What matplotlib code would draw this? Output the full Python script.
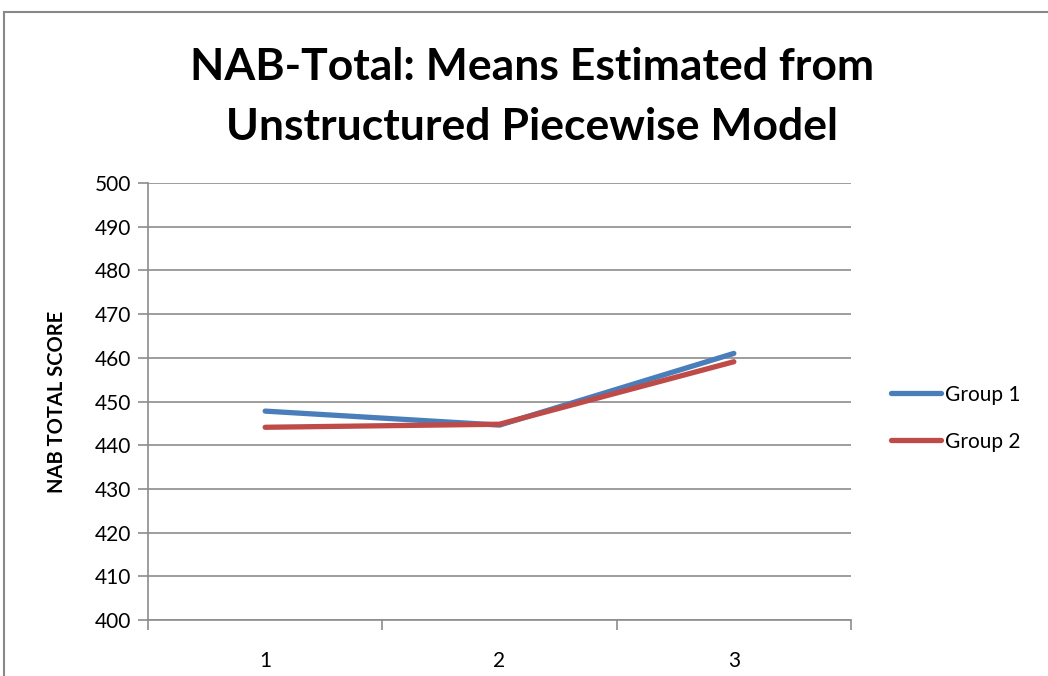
import matplotlib
matplotlib.use("Agg")
import matplotlib.pyplot as plt
from matplotlib.lines import Line2D

# data
occasions = [1, 2, 3]
group1 = [447.8, 444.6, 461.0]
group2 = [444.1, 444.8, 459.1]
y_ticks = list(range(400, 501, 10))

plt.rcParams["font.family"] = ["Lato", "DejaVu Sans"]

fig = plt.figure(figsize=(10.48, 6.76), dpi=100)
ax = fig.add_axes([148 / 1048, 1 - 620 / 676, (851 - 148) / 1048, (620 - 183) / 676])

# outer frame (cut off on right/bottom like the reference)
fig.add_artist(Line2D([4 / 1048, 4 / 1048], [0, 1 - 12 / 676], color="#888888", lw=1.5,
                      transform=fig.transFigure))
fig.add_artist(Line2D([4 / 1048, 1], [1 - 12 / 676, 1 - 12 / 676], color="#888888", lw=1.5,
                      transform=fig.transFigure))

ax.plot(occasions, group1, color="#4A7EBB", lw=3.8, solid_capstyle="round",
        solid_joinstyle="round", label="Group 1")
ax.plot(occasions, group2, color="#BE4B48", lw=3.8, solid_capstyle="round",
        solid_joinstyle="round", label="Group 2")

ax.set_xlim(0.5, 3.5)
ax.set_ylim(400, 500)
ax.set_yticks(y_ticks)
ax.yaxis.grid(True, color="#8c8c8c", lw=1.2)
ax.set_axisbelow(True)

ax.set_xticks([0.5, 1.5, 2.5, 3.5])
ax.set_xticklabels([])
ax.set_xticks(occasions, minor=True)
ax.set_xticklabels([str(o) for o in occasions], minor=True)
ax.tick_params(axis="x", which="minor", length=0, pad=22, labelsize=15)
ax.tick_params(axis="x", which="major", length=7, width=1.2, color="#8c8c8c")
ax.tick_params(axis="y", length=7, width=1.2, color="#8c8c8c", labelsize=15, pad=5)

for s in ["top", "right"]:
    ax.spines[s].set_visible(False)
for s in ["left", "bottom"]:
    ax.spines[s].set_color("#8c8c8c")
    ax.spines[s].set_linewidth(1.2)

ax.set_ylabel("NAB TOTAL SCORE", fontsize=14.5, fontweight="bold", labelpad=20)

fig.text(0.508, 1 - 97 / 676, "NAB-Total: Means Estimated from\nUnstructured Piecewise Model",
         ha="center", va="center", fontsize=32, fontweight="bold", linespacing=1.6)

ax.legend(loc="center left", bbox_to_anchor=(1.03, 0.462), frameon=False, fontsize=15,
          handlelength=2.4, handletextpad=0.2, labelspacing=1.3)

fig.savefig("out.png", dpi=100)
